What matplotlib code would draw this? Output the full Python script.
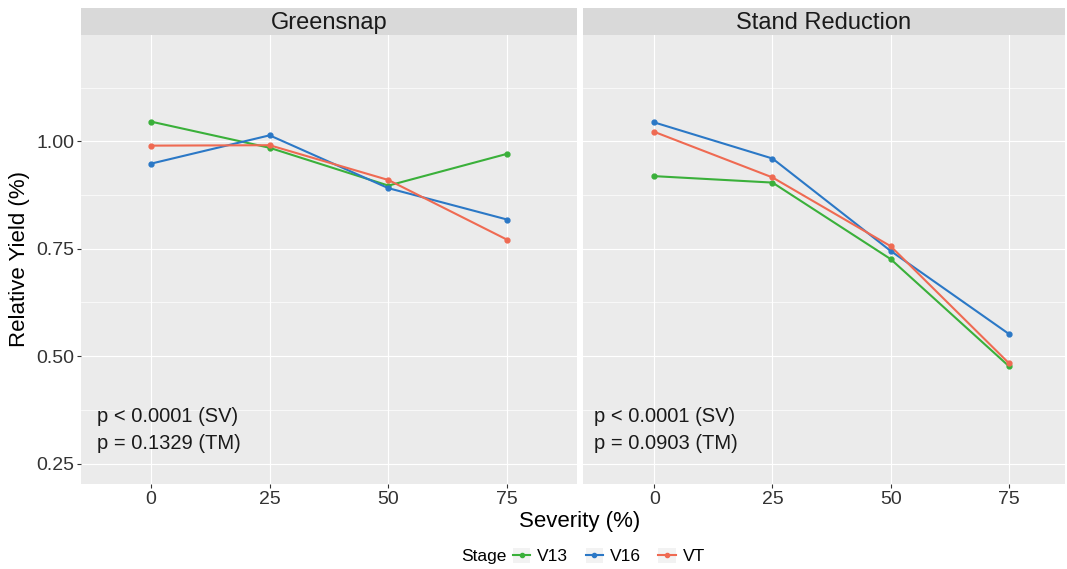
import matplotlib
matplotlib.use("Agg")
import matplotlib.pyplot as plt
from matplotlib.lines import Line2D
from matplotlib.patches import Patch
from matplotlib.legend_handler import HandlerTuple

plt.rcParams["font.family"] = ["Liberation Sans", "DejaVu Sans"]

# values
severity = [0, 25, 50, 75]
stages = ["V13", "V16", "VT"]
panels = ["Greensnap", "Stand Reduction"]

greensnap_v13 = [1.046, 0.985, 0.897, 0.971]
greensnap_v16 = [0.948, 1.014, 0.891, 0.818]
greensnap_vt = [0.990, 0.991, 0.910, 0.771]

stand_v13 = [0.919, 0.904, 0.726, 0.477]
stand_v16 = [1.044, 0.960, 0.745, 0.552]
stand_vt = [1.022, 0.916, 0.756, 0.484]

notes = [["p < 0.0001 (SV)", "p = 0.1329 (TM)"],
         ["p < 0.0001 (SV)", "p = 0.0903 (TM)"]]

y_ticks = [0.25, 0.50, 0.75, 1.00]
y_minor = [0.375, 0.625, 0.875, 1.125]

colors = {"V13": "#3AB03A", "V16": "#2B78C6", "VT": "#EF6A52"}
series = [
    {"V13": greensnap_v13, "V16": greensnap_v16, "VT": greensnap_vt},
    {"V13": stand_v13, "V16": stand_v16, "VT": stand_vt},
]

W, H = 1067, 569
fig = plt.figure(figsize=(W / 100, H / 100), dpi=100)
fig.patch.set_facecolor("white")


def fx(px):
    return px / W


def fy(py):
    return 1 - py / H


boxes = [(81, 577), (583, 1065)]
xlims = [(-14.7, 89.7), (-15.1, 86.9)]
note_x = [-11.4, -12.7]
top, bottom, strip_top = 35, 484, 8

for i, (x0, x1) in enumerate(boxes):
    ax = fig.add_axes([fx(x0), fy(bottom), fx(x1 - x0), fy(top) - fy(bottom)])
    ax.set_facecolor("#EBEBEB")
    for s in ax.spines.values():
        s.set_visible(False)
    ax.set_xlim(*xlims[i])
    ax.set_ylim(0.2025, 1.2475)
    ax.set_xticks(severity)
    ax.set_yticks(y_ticks)
    ax.set_yticks(y_minor, minor=True)
    ax.grid(True, which="major", color="white", lw=0.85)
    ax.grid(True, which="minor", axis="y", color="white", lw=0.5)
    ax.set_axisbelow(True)
    ax.tick_params(which="minor", length=0)
    ax.tick_params(which="major", length=3, width=0.8, color="#333333",
                   labelsize=14, labelcolor="#333333", pad=2)
    ax.set_xticklabels([str(v) for v in severity])
    if i == 0:
        ax.set_yticklabels([f"{v:.2f}" for v in y_ticks])
    else:
        ax.tick_params(axis="y", length=0, labelleft=False)

    for st in stages:
        ax.plot(severity, series[i][st], color=colors[st], lw=1.5,
                marker="o", ms=3.5, zorder=3)

    ax.text(note_x[i], 0.359, notes[i][0], fontsize=14.5, color="#1a1a1a",
            ha="left", va="center")
    ax.text(note_x[i], 0.2966, notes[i][1], fontsize=14.5, color="#1a1a1a",
            ha="left", va="center")

    # facet strip
    sax = fig.add_axes([fx(x0), fy(top), fx(x1 - x0), fy(strip_top) - fy(top)])
    sax.set_facecolor("#D9D9D9")
    sax.set_xticks([])
    sax.set_yticks([])
    for s in sax.spines.values():
        s.set_visible(False)
    sax.text(0.5, 0.45, panels[i], transform=sax.transAxes, ha="center",
             va="center", fontsize=17, color="#1a1a1a")

fig.text(fx(580), fy(521), "Severity (%)", ha="center", va="center", fontsize=16)
fig.text(fx(20), fy(259), "Relative Yield (%)", ha="center", va="center",
         rotation=90, fontsize=16)

# legend along the bottom, grey key boxes like ggplot
fig.text(fx(461), fy(556), "Stage", ha="left", va="center", fontsize=12.5)
handles = [(Patch(facecolor="#F2F2F2", edgecolor="none"),
            Line2D([], [], color=colors[st], lw=1.5, marker="o", ms=3))
           for st in stages]
leg = fig.legend(handles, stages, loc="center left",
                 bbox_to_anchor=(fx(513), fy(556)), ncol=3, frameon=False,
                 fontsize=12.5, handlelength=1.0, handleheight=1.0,
                 handletextpad=0.4, columnspacing=1.0, borderpad=0,
                 borderaxespad=0,
                 handler_map={tuple: HandlerTuple(ndivide=1, pad=0)})

fig.savefig("out.png", dpi=100, facecolor="white")
